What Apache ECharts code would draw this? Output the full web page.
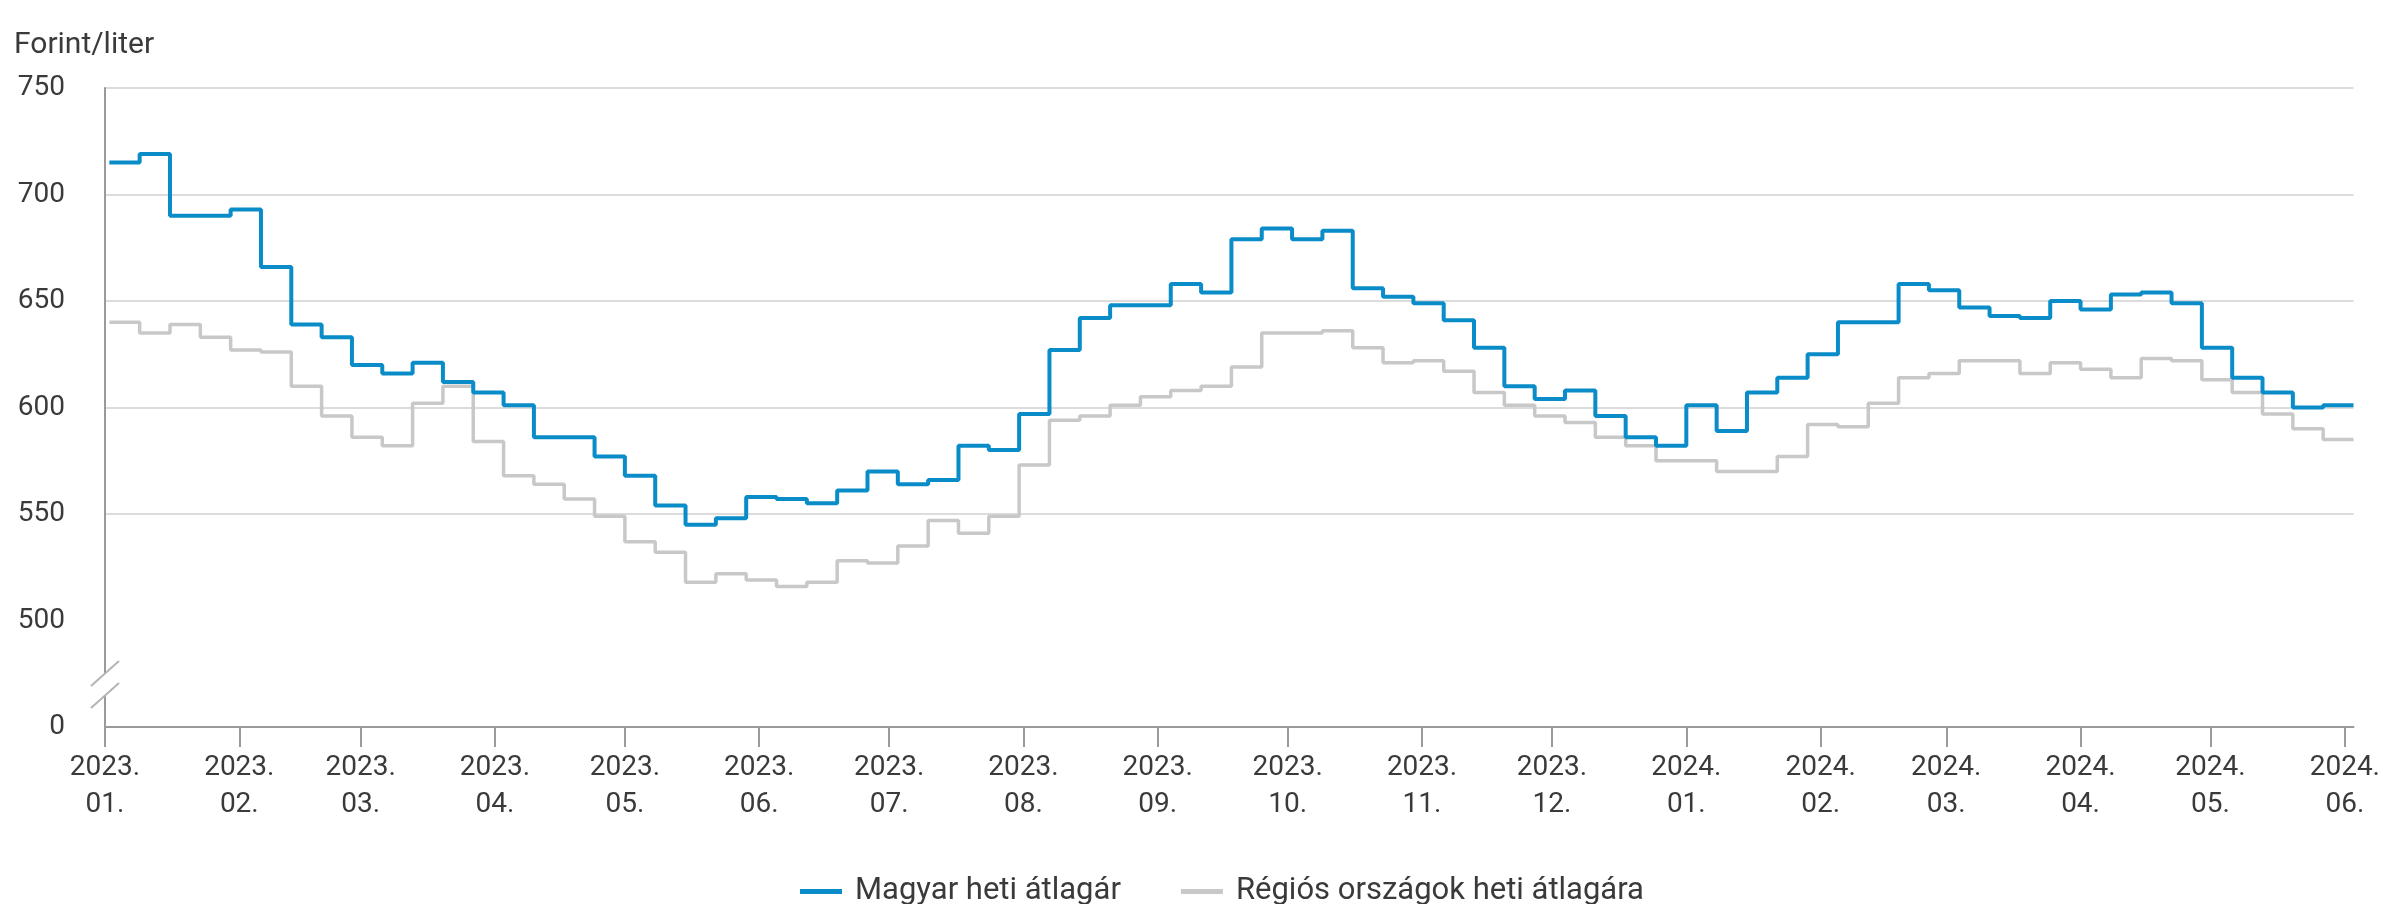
<!DOCTYPE html>
<html>
<head>
<meta charset="utf-8">
<script src="https://cdn.jsdelivr.net/npm/echarts@6/dist/echarts.min.js"></script>
<style>
  html, body { margin: 0; padding: 0; background: #fff; }
  #chart { width: 2383px; height: 904px; }
</style>
</head>
<body>
<div id="chart"></div>
<script>
// heti adatok: hétfői dátumok 2023.01.02-tól 2024.06.03-ig
var firstWeek = new Date(2023, 0, 2);
var weekCount = 75;

// Magyar heti átlagár (Ft/l)
var magyar = [
  715, 719, 690, 690, 693, 666, 639, 633, 620, 616,
  621, 612, 607, 601, 586, 586, 577, 568, 554, 545,
  548, 558, 557, 555, 561, 570, 564, 566, 582, 580,
  597, 627, 642, 648, 648, 658, 654, 679, 684, 679,
  683, 656, 652, 649, 641, 628, 610, 604, 608, 596,
  586, 582, 601, 589, 607, 614, 625, 640, 640, 658,
  655, 647, 643, 642, 650, 646, 653, 654, 649, 628,
  614, 607, 600, 601, 601
];

// Régiós országok heti átlagára (Ft/l)
var regios = [
  640, 635, 639, 633, 627, 626, 610, 596, 586, 582,
  602, 610, 584, 568, 564, 557, 549, 537, 532, 518,
  522, 519, 516, 518, 528, 527, 535, 547, 541, 549,
  573, 594, 596, 601, 605, 608, 610, 619, 635, 635,
  636, 628, 621, 622, 617, 607, 601, 596, 593, 586,
  582, 575, 575, 570, 570, 577, 592, 591, 602, 614,
  616, 622, 622, 616, 621, 618, 614, 623, 622, 613,
  607, 597, 590, 585, 585
];

var seriesNames = ['Magyar heti átlagár', 'Régiós országok heti átlagára'];
var seriesColors = ['#0a8cc8', '#c8c8c8'];

var weeks = [];
for (var i = 0; i < weekCount; i++) {
  var d = new Date(firstWeek);
  d.setDate(d.getDate() + i * 7);
  weeks.push(d.getTime());
}

function pairs(vals) {
  return weeks.map(function (t, i) { return [t, vals[i]]; });
}

function pad(n) { return (n < 10 ? '0' : '') + n; }

var font = 'Roboto';
var textColor = '#3a3a3a';
var axisColor = '#9a9a9a';

var chart = echarts.init(document.getElementById('chart'));

var option = {
  backgroundColor: '#ffffff',
  animation: false,
  title: {
    text: 'Forint/liter',
    left: 14,
    top: 30,
    padding: 0,
    textStyle: { fontFamily: font, fontSize: 30, fontWeight: 'normal', color: textColor }
  },
  legend: {
    left: 795,
    top: 871,
    itemGap: 60,
    itemWidth: 42,
    itemHeight: 5,
    icon: 'rect',
    textStyle: { fontFamily: font, fontSize: 31, color: textColor, padding: [0, 0, 0, 8] },
    data: seriesNames
  },
  grid: {
    left: 105,
    right: 25,
    top: 88,
    bottom: 177
  },
  xAxis: {
    type: 'time',
    min: new Date(2023, 0, 1).getTime(),
    max: weeks[weeks.length - 1],
    splitNumber: 17,
    minInterval: 28 * 24 * 3600 * 1000,
    maxInterval: 31 * 24 * 3600 * 1000,
    axisLine: { lineStyle: { color: axisColor, width: 2 } },
    axisTick: { show: true, length: 20, lineStyle: { color: axisColor, width: 2 } },
    splitLine: { show: false },
    axisLabel: {
      fontFamily: font,
      fontSize: 28,
      lineHeight: 37,
      color: textColor,
      margin: 22,
      formatter: function (value) {
        var d = new Date(value);
        return d.getFullYear() + '.\n' + pad(d.getMonth() + 1) + '.';
      }
    }
  },
  yAxis: {
    type: 'value',
    min: 0,
    max: 750,
    interval: 50,
    breaks: [{ start: 0, end: 500, gap: 50 }],
    breakArea: { show: false },
    axisLine: { show: true, lineStyle: { color: axisColor, width: 2 } },
    axisTick: { show: false },
    splitLine: { lineStyle: { color: '#dcdcdc', width: 2 } },
    axisLabel: { fontFamily: font, fontSize: 28, color: textColor, margin: 40 }
  },
  series: [
    {
      name: seriesNames[0],
      type: 'line',
      step: 'end',
      data: pairs(magyar),
      showSymbol: false,
      symbol: 'none',
      z: 3,
      lineStyle: { color: seriesColors[0], width: 4 },
      itemStyle: { color: seriesColors[0] }
    },
    {
      name: seriesNames[1],
      type: 'line',
      step: 'end',
      data: pairs(regios),
      showSymbol: false,
      symbol: 'none',
      z: 2,
      lineStyle: { color: seriesColors[1], width: 3.5 },
      itemStyle: { color: seriesColors[1] }
    }
  ]
};

chart.setOption(option);

// tengelytörés jelzése a 0 és 500 között
var p0 = chart.convertToPixel({ gridIndex: 0 }, [option.xAxis.min, 0]);
var p500 = chart.convertToPixel({ gridIndex: 0 }, [option.xAxis.min, 500]);
var cx = p0[0];
var cy = p0[1] + (p500[1] - p0[1]) * 0.4;
var dx = 14, dy = 12.5, off = 11;
chart.setOption({
  graphic: [
    {
      type: 'line',
      z: 99,
      shape: { x1: cx, y1: p500[1], x2: cx, y2: p0[1] },
      style: { stroke: axisColor, lineWidth: 2 }
    },
    {
      type: 'polygon',
      z: 100,
      shape: { points: [[cx - dx, cy - off + dy], [cx + dx, cy - off - dy], [cx + dx, cy + off - dy], [cx - dx, cy + off + dy]] },
      style: { fill: '#ffffff' }
    },
    {
      type: 'line',
      z: 101,
      shape: { x1: cx - dx, y1: cy - off + dy, x2: cx + dx, y2: cy - off - dy },
      style: { stroke: '#b4b4b4', lineWidth: 2 }
    },
    {
      type: 'line',
      z: 101,
      shape: { x1: cx - dx, y1: cy + off + dy, x2: cx + dx, y2: cy + off - dy },
      style: { stroke: '#b4b4b4', lineWidth: 2 }
    }
  ]
});
</script>
</body>
</html>
